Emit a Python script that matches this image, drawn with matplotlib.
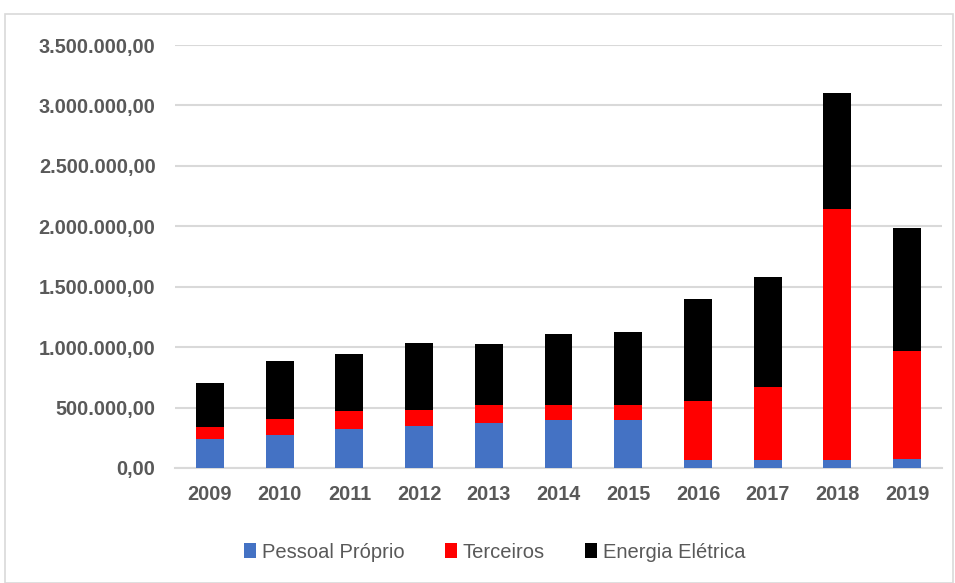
import matplotlib.pyplot as plt
import matplotlib.ticker as mticker
from matplotlib.patches import Rectangle
import numpy as np

# dados
anos = ['2009', '2010', '2011', '2012', '2013', '2014', '2015', '2016', '2017', '2018', '2019']
pessoal_proprio = [242000, 272000, 326000, 348000, 374000, 399000, 399000, 69000, 69000, 69000, 77000]
terceiros = [95000, 130000, 143000, 130000, 151000, 126000, 126000, 484000, 600000, 2073000, 889000]
energia_eletrica = [368000, 486000, 475000, 553000, 497000, 581000, 603000, 846000, 909000, 958000, 1016000]

plt.rcParams['font.family'] = ['Liberation Sans', 'DejaVu Sans']
cinza = '#595959'

fig = plt.figure(figsize=(9.55, 5.83), dpi=100)
ax = fig.add_axes([175 / 955, 1 - 468 / 583, 767 / 955, 423 / 583])

# moldura do grafico
fig.patches.append(Rectangle((5 / 955, 0), 948 / 955, 1 - 14 / 583, transform=fig.transFigure,
                             fill=False, edgecolor='#d9d9d9', linewidth=1.2))

x = np.arange(len(anos))
p = np.array(pessoal_proprio)
t = np.array(terceiros)
e = np.array(energia_eletrica)
w = 0.4
ax.bar(x, p, w, color='#4472c4', label='Pessoal Próprio', zorder=3)
ax.bar(x, t, w, bottom=p, color='#ff0000', label='Terceiros', zorder=3)
ax.bar(x, e, w, bottom=p + t, color='#000000', label='Energia Elétrica', zorder=3)

ax.set_xlim(-0.5, len(anos) - 0.5)
ax.set_ylim(0, 3500000)
ax.set_yticks(np.arange(0, 3500001, 500000))
ax.yaxis.set_major_formatter(mticker.FuncFormatter(
    lambda v, pos: f'{v:,.2f}'.replace(',', 'X').replace('.', ',').replace('X', '.')))
ax.set_xticks(x)
ax.set_xticklabels(anos)

ax.grid(axis='y', color='#d9d9d9', linewidth=1.5, zorder=0)
for s in ['top', 'right', 'left']:
    ax.spines[s].set_visible(False)
ax.spines['bottom'].set_color('#d9d9d9')
ax.spines['bottom'].set_linewidth(1.5)
ax.tick_params(axis='both', length=0, colors=cinza, labelsize=14.3)
ax.tick_params(axis='y', pad=14)
ax.tick_params(axis='x', pad=12)
for lbl in ax.get_xticklabels() + ax.get_yticklabels():
    lbl.set_fontweight('bold')

leg = fig.legend(loc='center', bbox_to_anchor=(0.518, 1 - 552 / 583), ncol=3, frameon=False,
                 fontsize=14.5, handlelength=0.6, handleheight=0.7, handletextpad=0.3, columnspacing=2.0)
for txt in leg.get_texts():
    txt.set_color(cinza)

plt.savefig('out.png', dpi=100)
